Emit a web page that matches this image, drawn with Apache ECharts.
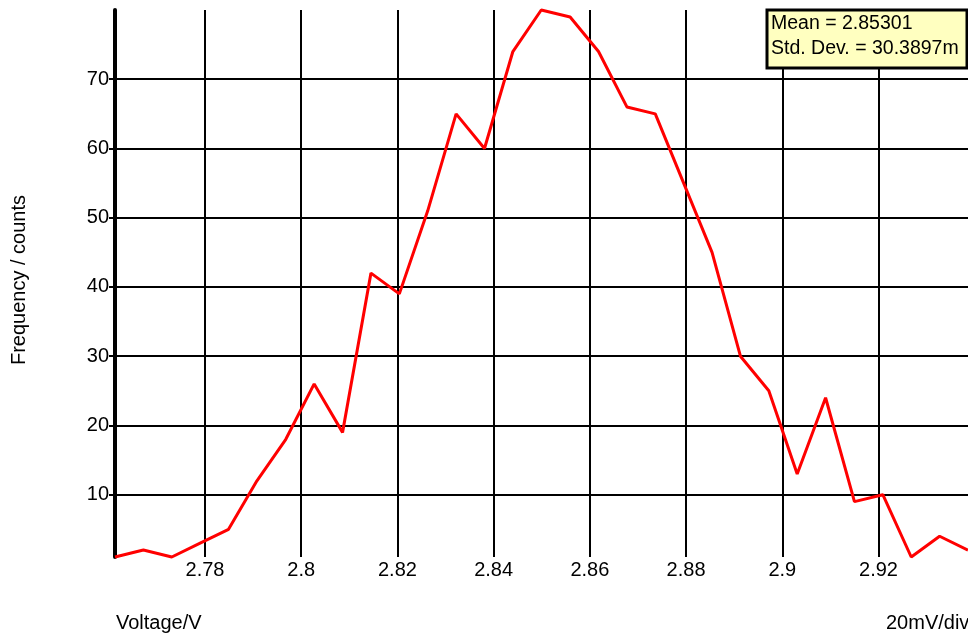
<!DOCTYPE html>
<html>
<head>
<meta charset="utf-8">
<script src="https://cdn.jsdelivr.net/npm/echarts@6/dist/echarts.min.js"></script>
<style>html,body{margin:0;padding:0;background:#fff;}#chart{width:968px;height:635px;}</style>
</head>
<body>
<div id="chart"></div>
<script>
// Bin centres (V)
var voltages = [2.7613, 2.7672, 2.7731, 2.7790, 2.7849, 2.7908, 2.7968, 2.8027, 2.8086, 2.8145,
                2.8204, 2.8263, 2.8322, 2.8381, 2.8440, 2.8499, 2.8559, 2.8618, 2.8677, 2.8736,
                2.8795, 2.8854, 2.8913, 2.8972, 2.9031, 2.9090, 2.9150, 2.9209, 2.9268, 2.9327, 2.9386];
// Frequency (counts)
var counts = [1, 2, 1, 3, 5, 12, 18, 26, 19, 42,
              39, 51, 65, 60, 74, 80, 79, 74, 66, 65,
              55, 45, 30, 25, 13, 24, 9, 10, 1, 4, 2];
var xTicks = [2.78, 2.80, 2.82, 2.84, 2.86, 2.88, 2.90, 2.92];
var yTicks = [10, 20, 30, 40, 50, 60, 70];
var yMin = 1, yMax = 80;
var statLines = ['Mean = 2.85301', 'Std. Dev. = 30.3897m'];
var xName = 'Voltage/V';
var xScaleNote = '20mV/div';
var yName = 'Frequency / counts';

var FONT = "'Liberation Sans', Arial, sans-serif";
var chart = echarts.init(document.getElementById('chart'), null, {renderer: 'canvas'});
var lineData = voltages.map(function (v, i) { return [v, counts[i]]; });

chart.setOption({
  animation: false,
  backgroundColor: '#ffffff',
  grid: {left: 115, right: 0, top: 10, bottom: 78, containLabel: false},
  xAxis: {
    type: 'value',
    min: voltages[0],
    max: voltages[voltages.length - 1],
    axisLine: {show: false},
    axisTick: {show: false, customValues: xTicks},
    axisLabel: {
      customValues: xTicks,
      color: '#000', fontSize: 20, fontFamily: FONT, margin: 3,
      formatter: function (v) { return String(+v.toFixed(2)); }
    },
    splitLine: {show: true, lineStyle: {color: '#000', width: 2}}
  },
  yAxis: {
    type: 'value',
    min: yMin,
    max: yMax,
    axisLine: {show: true, onZero: false, lineStyle: {color: '#000', width: 4}},
    axisTick: {show: true, length: 6, customValues: yTicks, lineStyle: {color: '#000', width: 2}},
    axisLabel: {customValues: yTicks, color: '#000', fontSize: 20, fontFamily: FONT, margin: 6},
    splitLine: {show: true, lineStyle: {color: '#000', width: 2}}
  },
  series: [{
    type: 'line',
    data: lineData,
    showSymbol: false,
    symbol: 'none',
    clip: false,
    lineStyle: {color: '#ff0000', width: 3},
    z: 5
  }],
  graphic: [
    {type: 'rect', z: 100, shape: {x: 767, y: 10, width: 200, height: 58},
     style: {fill: '#ffffc0', stroke: '#000', lineWidth: 3}},
    {type: 'text', z: 101, x: 771, y: 24,
     style: {text: statLines[0], font: '19.5px ' + FONT, fill: '#000', textVerticalAlign: 'middle'}},
    {type: 'text', z: 101, x: 771, y: 49,
     style: {text: statLines[1], font: '19.5px ' + FONT, fill: '#000', textVerticalAlign: 'middle'}},
    {type: 'text', x: 116, y: 623,
     style: {text: xName, font: '20px ' + FONT, fill: '#000', textVerticalAlign: 'middle'}},
    {type: 'text', x: 886, y: 623,
     style: {text: xScaleNote, font: '20px ' + FONT, fill: '#000', textVerticalAlign: 'middle'}},
    {type: 'text', x: 19, y: 280, rotation: Math.PI / 2,
     style: {text: yName, font: '20px ' + FONT, fill: '#000', textAlign: 'center', textVerticalAlign: 'middle'}}
  ]
});
</script>
</body>
</html>
